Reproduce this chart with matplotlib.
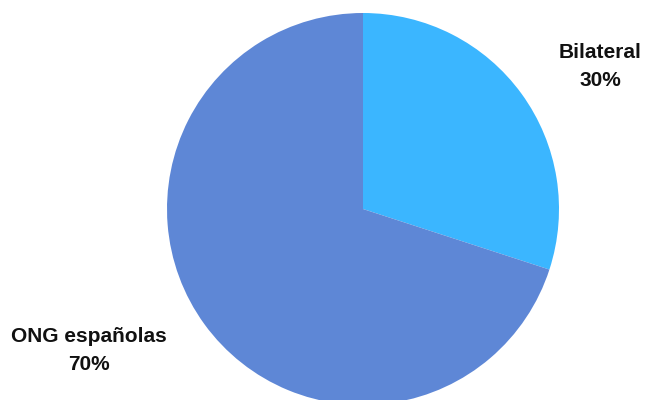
import matplotlib
matplotlib.use("Agg")
import matplotlib.pyplot as plt

categories = ["Bilateral", "ONG españolas"]
values = [30, 70]
colors = ["#3BB6FF", "#5E87D6"]

W, H = 645, 400
fig = plt.figure(figsize=(W / 100, H / 100), dpi=100)
cx, cy, r = 363, 209, 196
ax = fig.add_axes([(cx - r) / W, (H - cy - r) / H, 2 * r / W, 2 * r / H])
ax.pie(values, colors=colors, startangle=90, counterclock=False, radius=1,
       wedgeprops=dict(linewidth=0))
ax.set_xlim(-1, 1)
ax.set_ylim(-1, 1)
ax.set_aspect("auto")
ax.axis("off")

label_pos = [(600, 66), (89, 350)]
for cat, val, (px, py) in zip(categories, values, label_pos):
    fig.text(px / W, 1 - py / H, f"{cat}\n{val}%", ha="center", va="center",
             fontsize=15, fontweight="bold", family="Liberation Sans",
             linespacing=1.6, color="#111111")

fig.savefig("out.png", dpi=100)
